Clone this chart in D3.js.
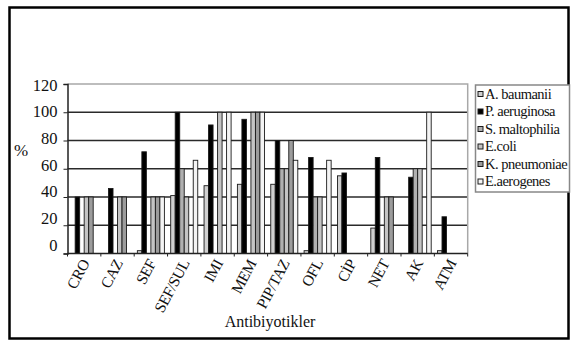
<!DOCTYPE html>
<html>
<head>
<meta charset="utf-8">
<script src="https://cdn.jsdelivr.net/npm/d3@7"></script>
<style>
  body { margin: 0; background: #fff; }
  svg, svg text { font-family: "Liberation Serif", "Times New Roman", Times, "DejaVu Serif", "Noto Serif", serif !important; }
</style>
</head>
<body>
<div id="chart"></div>
<script>
// Antibiotics on the x axis
const categories = ["CRO", "CAZ", "SEF", "SEF/SUL", "IMI", "MEM", "PIP/TAZ", "OFL", "CİP", "NET", "AK", "ATM"];

const seriesNames = ["A. baumanii", "P. aeruginosa", "S. maltophilia", "E.coli", "K. pneumoniae", "E.aerogenes"];

// resistance, %
const aBaumanii    = [0, 0, 2, 41, 48, 49, 49, 2, 55, 18, 0, 2];
const pAeruginosa  = [40, 46, 72, 100, 91, 95, 80, 68, 57, 68, 54, 26];
const sMaltophilia = [0, 0, 0, 60, 0, 0, 60, 40, 0, 0, 60, 0];
const eColi        = [40, 40, 40, 40, 100, 100, 60, 40, 0, 40, 60, 0];
const kPneumoniae  = [40, 40, 40, 0, 0, 100, 80, 0, 0, 40, 0, 0];
const eAerogenes   = [0, 0, 40, 66, 100, 100, 66, 66, 0, 0, 100, 0];

const yTicks = [0, 20, 40, 60, 80, 100, 120];

const seriesValues = [aBaumanii, pAeruginosa, sMaltophilia, eColi, kPneumoniae, eAerogenes];
const fills = ["#d0d0d0", "#000000", "#b0b0b0", "#c4c4c4", "#9c9c9c", "#f4f4f4"];

const width = 571;
const height = 343;
const plot = { left: 67.5, right: 467.7, top: 84, bottom: 253.5 };
const serif = "'Liberation Serif', 'Times New Roman', Times, 'DejaVu Serif', serif";

const svg = d3.select("#chart").append("svg")
    .attr("width", width)
    .attr("height", height);

// outer frame
svg.append("rect")
    .attr("x", 9.5).attr("y", 7.5)
    .attr("width", 559).attr("height", 331)
    .attr("fill", "none")
    .attr("stroke", "#000")
    .attr("stroke-width", 2.5);

const x = d3.scaleBand()
    .domain(categories)
    .range([plot.left, plot.right])
    .padding(0);

const xSub = d3.scaleBand()
    .domain(seriesNames)
    .range([0, x.bandwidth()])
    .paddingInner(0)
    .paddingOuter(0.7);

const y = d3.scaleLinear()
    .domain([0, 120])
    .range([plot.bottom, plot.top]);

// the tick labels in the picture sit a little off the gridlines
const yLabel = d3.scaleLinear()
    .domain([0, 120])
    .range([245, 85]);

// gridlines
svg.append("g")
    .selectAll("line")
    .data(yTicks.filter(d => d > 0 && d < 120))
    .join("line")
    .attr("x1", plot.left).attr("x2", plot.right)
    .attr("y1", d => y(d)).attr("y2", d => y(d))
    .attr("stroke", "#2a2a2a")
    .attr("stroke-width", 1.3);

// plot area border (top and right are grey)
svg.append("path")
    .attr("d", `M${plot.left},${y(120)}H${plot.right}V${plot.bottom}`)
    .attr("fill", "none")
    .attr("stroke", "#a8a8a8")
    .attr("stroke-width", 1.5);

// bars
const groups = svg.append("g")
    .selectAll("g")
    .data(categories)
    .join("g")
    .attr("transform", d => `translate(${x(d)},0)`);

groups.selectAll("rect")
    .data((c, i) => seriesNames.map((s, j) => ({ series: s, j: j, value: seriesValues[j][i] })))
    .join("rect")
    .filter(d => d.value > 0)
    .attr("x", d => xSub(d.series))
    .attr("y", d => y(d.value))
    .attr("width", xSub.bandwidth())
    .attr("height", d => y(0) - y(d.value))
    .attr("fill", d => fills[d.j])
    .attr("stroke", "#1a1a1a")
    .attr("stroke-width", 0.9);

// y axis
const yAxis = svg.append("g")
    .attr("transform", `translate(${plot.left},0)`)
    .call(d3.axisLeft(y).tickValues(yTicks).tickSize(4).tickFormat(""));
yAxis.select(".domain").attr("stroke", "#222").attr("stroke-width", 1.5);
yAxis.selectAll(".tick line").attr("stroke", "#222");

svg.append("g")
    .attr("transform", `translate(${plot.left},0)`)
    .call(d3.axisLeft(yLabel).tickValues(yTicks).tickSize(0).tickPadding(10))
    .attr("font-family", serif)
    .call(g => g.select(".domain").remove())
    .selectAll("text")
    .attr("font-size", 16.5)
    .attr("fill", "#111");

svg.append("text")
    .attr("x", 21).attr("y", 150)
    .attr("dy", "0.35em")
    .attr("text-anchor", "middle")
    .attr("font-family", serif)
    .attr("font-size", 17)
    .attr("fill", "#111")
    .text("%");

// x axis with ticks between the groups
const xAxis = svg.append("g")
    .attr("transform", `translate(0,${plot.bottom})`)
    .attr("font-family", serif);

xAxis.append("line")
    .attr("x1", plot.left).attr("x2", plot.right)
    .attr("stroke", "#222")
    .attr("stroke-width", 1.5);

xAxis.selectAll(".tk")
    .data(categories.concat(["end"]))
    .join("line")
    .attr("class", "tk")
    .attr("x1", (d, i) => i < categories.length ? x(d) : plot.right)
    .attr("x2", (d, i) => i < categories.length ? x(d) : plot.right)
    .attr("y1", 0).attr("y2", 3)
    .attr("stroke", "#222");

xAxis.selectAll("text")
    .data(categories)
    .join("text")
    .attr("transform", d => `translate(${x(d) + x.bandwidth() / 2 + 1},${7})rotate(-62)`)
    .attr("text-anchor", "end")
    .attr("dy", "0.35em")
    .attr("font-size", 15.5)
    .attr("letter-spacing", "-0.4")
    .attr("fill", "#111")
    .text(d => d);

svg.append("text")
    .attr("x", 270).attr("y", 327)
    .attr("text-anchor", "middle")
    .attr("font-family", serif)
    .attr("font-size", 16)
    .attr("fill", "#111")
    .text("Antibiyotikler");

// legend
const legend = svg.append("g")
    .attr("font-family", serif);

legend.append("rect")
    .attr("x", 475.5).attr("y", 85)
    .attr("width", 94).attr("height", 107)
    .attr("fill", "#fff")
    .attr("stroke", "#888")
    .attr("stroke-width", 1.5);

const legendItem = legend.selectAll(".item")
    .data(seriesNames)
    .join("g")
    .attr("class", "item")
    .attr("transform", (d, i) => `translate(478,${93.5 + i * 17.5})`);

legendItem.append("rect")
    .attr("x", 0).attr("y", -2)
    .attr("width", 5).attr("height", 5)
    .attr("fill", (d, i) => fills[i])
    .attr("stroke", "#1a1a1a")
    .attr("stroke-width", 1);

legendItem.append("text")
    .attr("x", 7)
    .attr("dy", "0.35em")
    .attr("font-size", 14.5)
    .attr("letter-spacing", "-0.5")
    .attr("fill", "#111")
    .text(d => d);
</script>
</body>
</html>
